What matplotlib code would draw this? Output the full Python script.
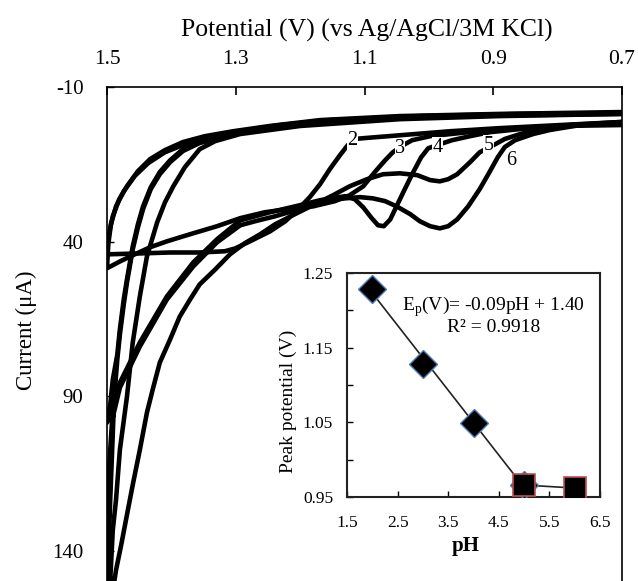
import numpy as np
import matplotlib
matplotlib.use("Agg")
import matplotlib.pyplot as plt

plt.rcParams['font.family'] = ['Liberation Serif', 'DejaVu Serif']
plt.rcParams['mathtext.fontset'] = 'custom'
plt.rcParams['mathtext.rm'] = 'Liberation Serif'
plt.rcParams['axes.unicode_minus'] = False

# ---------------- main CV data (potential V, current uA) ----------------
# each list: forward sweep 0.7 -> 1.5 V followed by reverse sweep 1.5 -> 0.7 V
pH2_E = [0.700, 0.796, 0.890, 0.967, 1.045, 1.099, 1.115, 1.126, 1.138, 1.154, 1.169,
         1.185, 1.203, 1.223, 1.247, 1.278, 1.301, 1.317, 1.356, 1.402, 1.449, 1.500,
         1.500, 1.497, 1.491, 1.481, 1.469, 1.452, 1.433, 1.410, 1.382, 1.348, 1.304,
         1.247, 1.169, 1.045, 0.890, 0.700]
pH2_I = [1.3, 2.3, 3.3, 4.3, 5.6, 6.5, 6.8, 8.8, 12.0, 16.6, 21.4,
         25.6, 29.5, 33.4, 36.7, 39.9, 42.2, 43.1, 43.5, 43.5, 43.8, 44.1,
         42.5, 37.6, 31.8, 26.3, 22.1, 17.2, 13.3, 10.4, 7.8, 5.9, 4.3,
         2.6, 0.7, -0.6, -1.3, -1.9]

pH3_E = [0.700, 0.796, 0.890, 0.952, 0.998, 1.026, 1.040, 1.056, 1.068, 1.084, 1.102,
         1.123, 1.146, 1.180, 1.220, 1.255, 1.293, 1.329, 1.371, 1.407, 1.433, 1.460,
         1.480, 1.500,
         1.500, 1.498, 1.494, 1.486, 1.474, 1.457, 1.436, 1.410, 1.379, 1.340, 1.293,
         1.231, 1.154, 1.014, 0.858, 0.700]
pH3_I = [1.7, 2.6, 3.6, 4.9, 5.9, 7.2, 8.8, 11.1, 13.7, 17.5, 22.1,
         25.0, 26.9, 28.6, 29.5, 30.5, 32.4, 35.0, 37.6, 39.9, 41.8, 44.4,
         46.4, 48.6,
         48.6, 40.9, 34.4, 28.6, 23.7, 18.8, 14.6, 11.1, 8.5, 6.2, 4.3,
         2.3, 0.7, -0.6, -1.3, -1.6]

pH4_E = [0.700, 0.796, 0.858, 0.905, 0.936, 0.964, 0.983, 1.001, 1.012, 1.026, 1.039,
         1.051, 1.060, 1.070, 1.079, 1.090, 1.102, 1.115, 1.130, 1.169, 1.200, 1.247,
         1.293, 1.329, 1.366, 1.407, 1.449, 1.480, 1.500,
         1.495, 1.491, 1.484, 1.480, 1.474, 1.469, 1.460, 1.452, 1.444, 1.432, 1.418,
         1.402, 1.382, 1.356, 1.293, 1.216, 1.123, 0.967, 0.700]
pH4_I = [2.3, 2.6, 3.6, 4.6, 5.9, 7.2, 8.5, 9.8, 12.7, 18.2, 23.7,
         28.9, 32.8, 35.0, 34.7, 32.1, 28.9, 26.3, 25.3, 26.6, 28.2, 30.5,
         33.1, 39.2, 46.7, 57.7, 72.6, 85.6, 98.5,
         92.7, 84.6, 76.5, 68.4, 58.7, 52.2, 41.5, 34.4, 28.6, 22.4, 17.5,
         13.7, 10.1, 7.8, 4.6, 2.3, 0.7, -0.6, -1.3]

pH5_E = [0.700, 0.781, 0.827, 0.858, 0.882, 0.897, 0.921, 0.936, 0.956, 0.970, 0.983,
         0.998, 1.018, 1.045, 1.071, 1.096, 1.123, 1.149, 1.180, 1.208, 1.239, 1.262,
         1.286, 1.309, 1.332, 1.356, 1.371, 1.387, 1.402, 1.418, 1.429, 1.438, 1.449,
         1.460, 1.469, 1.478, 1.486, 1.492, 1.497, 1.500,
         1.498, 1.495, 1.491, 1.486, 1.480, 1.469, 1.460, 1.449, 1.438, 1.422, 1.410,
         1.397, 1.379, 1.356, 1.332, 1.293, 1.200, 1.045, 0.890, 0.700]
pH5_I = [1.3, 2.3, 3.6, 5.2, 6.8, 8.5, 11.1, 14.3, 18.2, 19.8, 20.5,
         20.1, 18.5, 17.9, 18.2, 19.8, 22.1, 25.0, 28.2, 31.1, 34.4, 37.6,
         40.5, 44.1, 49.0, 53.8, 58.7, 64.2, 71.6, 79.1, 87.8, 95.3, 107.3,
         118.6, 128.3, 138.1, 146.2, 154.3, 162.4, 165.0,
         155.9, 149.4, 133.2, 123.5, 107.3, 90.1, 72.6, 57.7, 44.8, 33.7, 27.3,
         22.1, 15.9, 10.1, 7.5, 5.2, 2.6, 0.4, -0.6, -1.3]

pH6_E = [0.700, 0.765, 0.812, 0.838, 0.866, 0.882, 0.893, 0.905, 0.921, 0.939, 0.956,
         0.970, 0.983, 0.998, 1.014, 1.029, 1.050, 1.068, 1.087, 1.107, 1.130, 1.154,
         1.180, 1.208, 1.239, 1.270, 1.293, 1.329, 1.366, 1.407, 1.449, 1.480, 1.492,
         1.497, 1.500, 1.500, 1.500,
         1.498, 1.495, 1.492, 1.489, 1.484, 1.480, 1.474, 1.469, 1.460, 1.452, 1.444,
         1.432, 1.418, 1.402, 1.382, 1.356, 1.293, 1.200, 1.045, 0.890, 0.700]
pH6_I = [1.7, 2.3, 3.9, 5.2, 7.2, 9.4, 12.7, 17.2, 23.0, 28.6, 32.8,
         35.0, 35.7, 35.0, 33.4, 31.1, 28.6, 26.9, 26.0, 25.6, 26.0, 26.6,
         27.9, 29.9, 31.8, 33.4, 34.7, 40.2, 48.0, 58.7, 73.9, 87.2, 97.6,
         113.8, 133.2, 155.9, 165.0,
         142.9, 123.5, 107.3, 91.1, 78.1, 70.0, 60.3, 53.2, 42.5, 35.4, 29.5,
         23.0, 18.2, 14.3, 10.7, 8.1, 4.9, 2.3, 0.0, -0.9, -1.6]

curve_labels = ["2", "3", "4", "5", "6"]
label_E = [1.119, 1.045, 0.986, 0.907, 0.872]
label_I = [7.2, 9.8, 9.4, 8.8, 13.7]

x_ticks = [1.5, 1.3, 1.1, 0.9, 0.7]
y_ticks = [-10, 40, 90, 140]

# ---------------- inset data ----------------
ph_lin = [2, 3, 4, 5]
ep_lin = [1.229, 1.128, 1.049, 0.966]
ph_plat = [5, 6]
ep_plat = [0.966, 0.962]
inset_xticks = [1.5, 2.5, 3.5, 4.5, 5.5, 6.5]
inset_yticks = [0.95, 1.05, 1.15, 1.25]
inset_yminor = [1.00, 1.10, 1.20]

W, H = 638, 581
fig = plt.figure(figsize=(W / 100, H / 100), dpi=100)
ax = fig.add_axes([107 / W, 0.0, 515 / W, 1 - 87 / H])

for E, I in [(pH2_E, pH2_I), (pH3_E, pH3_I), (pH4_E, pH4_I), (pH5_E, pH5_I), (pH6_E, pH6_I)]:
    ax.plot(E, I, color='black', lw=3.3, solid_joinstyle='round', solid_capstyle='round', zorder=2)

for t, e, i in zip(curve_labels, label_E, label_I):
    ax.text(e, i, t, fontsize=14.5, ha='center', va='center', zorder=5,
            bbox=dict(facecolor='white', edgecolor='none', pad=0.3))

ax.set_xlim(1.5, 0.7)
ax.set_ylim(149.7, -10)
ax.set_xticks(x_ticks)
ax.set_xticklabels(["1.5", "1.3", "1.1", "0.9", "0.7"])
ax.set_yticks(y_ticks)
ax.xaxis.tick_top()
ax.tick_params(axis='x', direction='in', length=6, width=1.2, pad=13, labelsize=15.5)
ax.tick_params(axis='y', direction='in', length=5, width=1.0, pad=17, labelsize=15)
ax.spines['bottom'].set_visible(False)
for s in ['top', 'left', 'right']:
    ax.spines[s].set_linewidth(1.2)
ax.xaxis.set_label_position('top')
ax.set_xlabel("Potential (V) (vs Ag/AgCl/3M KCl)", fontsize=18.5)
ax.xaxis.set_label_coords((367 - 107) / 515, (581 - 37) / 494)
ax.set_ylabel("Current (\u03bcA)", fontsize=16.5)
ax.yaxis.set_label_coords((37 - 107) / 515, (581 - 330) / 494)

# ---------------- inset ----------------
ins = fig.add_axes([347 / W, 1 - 497 / H, 253 / W, 224 / H], zorder=10)
ins.set_facecolor('white')
coef = np.polyfit(ph_lin, ep_lin, 1)
xfit = np.array([ph_lin[0], ph_lin[-1]])
ins.plot(xfit, np.polyval(coef, xfit), color='#222222', lw=1.2, zorder=2)
ins.plot(ph_plat, ep_plat, color='#222222', lw=1.2, zorder=2)
ins.plot(ph_lin, ep_lin, linestyle='none', marker='D', markersize=14.5,
         markerfacecolor='black', markeredgecolor='#4a7ebb', markeredgewidth=1.0, zorder=3)
ins.plot(ph_plat, ep_plat, linestyle='none', marker='s', markersize=15.5,
         markerfacecolor='black', markeredgecolor='#c0504d', markeredgewidth=1.2, zorder=4)
ins.set_xlim(1.5, 6.5)
ins.set_ylim(0.95, 1.25)
ins.set_xticks(inset_xticks)
ins.set_xticklabels(["1.5", "2.5", "3.5", "4.5", "5.5", "6.5"])
ins.set_yticks(inset_yticks)
ins.set_yticklabels(["0.95", "1.05", "1.15", "1.25"])
ins.set_yticks(inset_yminor, minor=True)
ins.tick_params(axis='both', which='both', direction='in', length=4, width=1.0, labelsize=12.5)
ins.tick_params(axis='x', pad=13)
ins.tick_params(axis='y', pad=10)
for s in ins.spines.values():
    s.set_linewidth(1.5)
    s.set_color('#222222')
ins.set_xlabel("pH", fontsize=15, fontweight='bold')
ins.xaxis.set_label_coords((466 - 347) / 253, (497 - 536) / 224)
ins.set_ylabel("Peak potential (V)", fontsize=14)
ins.yaxis.set_label_coords((297 - 347) / 253, (497 - 401) / 224)
ins.text(0.58, 0.848, "E$_\\mathregular{p}$(V)= -0.09pH + 1.40", transform=ins.transAxes,
         ha='center', va='center', fontsize=14)
ins.text(0.58, 0.757, "R\u00b2 = 0.9918", transform=ins.transAxes,
         ha='center', va='center', fontsize=14)

fig.savefig("out.png", dpi=100)
